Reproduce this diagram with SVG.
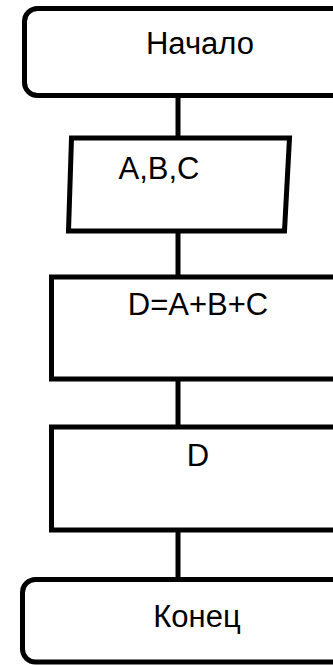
<svg xmlns="http://www.w3.org/2000/svg" width="333" height="665" viewBox="0 0 333 665">
<style>
.shape{fill:#fff;stroke:#000;stroke-width:5}
.conn{stroke:#000;stroke-width:5;fill:none}
text{font-family:"Liberation Sans",Arial,sans-serif;font-size:31px;fill:#000;text-anchor:middle}
</style>
<rect width="333" height="665" fill="#fff"/>
<g id="connectors">
<line class="conn" x1="178" y1="96" x2="178" y2="138"/>
<line class="conn" x1="178" y1="231" x2="178" y2="277"/>
<line class="conn" x1="178" y1="379" x2="178" y2="427"/>
<line class="conn" x1="178" y1="530" x2="178" y2="580"/>
</g>
<g id="start">
<rect class="shape" x="24.5" y="8.5" width="340" height="87" rx="13" ry="13"/>
<text x="200" y="54">Начало</text>
</g>
<g id="input">
<polygon class="shape" points="71.5,138 289.5,138 284.5,231 68.5,231"/>
<text x="159" y="179">A,B,C</text>
</g>
<g id="process">
<rect class="shape" x="51.5" y="277" width="320" height="102"/>
<text x="198" y="315">D=A+B+C</text>
</g>
<g id="output">
<rect class="shape" x="51.5" y="427" width="320" height="103"/>
<text x="198" y="466">D</text>
</g>
<g id="end">
<rect class="shape" x="22.5" y="579.5" width="340" height="82.5" rx="13" ry="13"/>
<text x="197" y="627">Конец</text>
</g>
</svg>
